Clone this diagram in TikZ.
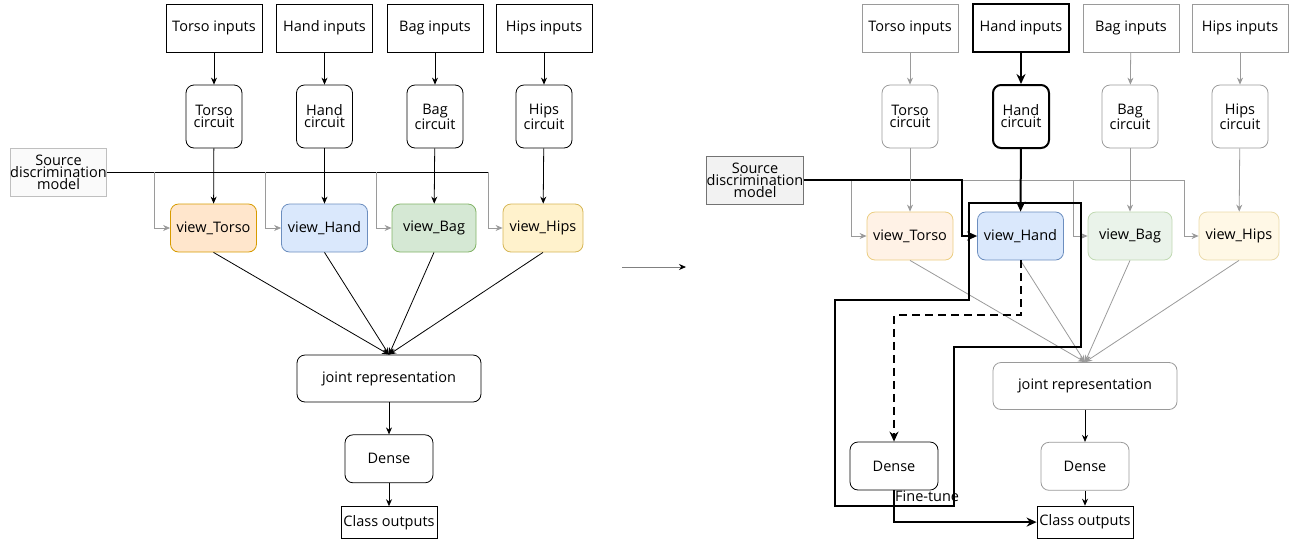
\documentclass[tikz,border=0pt]{standalone}
\usepackage{fontspec}
\setmainfont{Open Sans}
\usetikzlibrary{arrows.meta,positioning}

\definecolor{tfill}{HTML}{FFE6CC}\definecolor{tline}{HTML}{D79B00}
\definecolor{hfill}{HTML}{DAE8FC}\definecolor{hline}{HTML}{6C8EBF}
\definecolor{bfill}{HTML}{D5E8D4}\definecolor{bline}{HTML}{82B366}
\definecolor{pfill}{HTML}{FFF2CC}\definecolor{pline}{HTML}{D6B656}
\definecolor{faint}{HTML}{9A9A9A}

\tikzstyle{every node}=[font=\fontsize{14.5}{16}\selectfont,inner sep=0pt]
\tikzstyle{inbox}=[draw=black,line width=0.8pt,minimum width=96pt,minimum height=48pt]
\tikzstyle{circ}=[draw=black,line width=0.8pt,rounded corners=8pt,minimum width=56pt,minimum height=63pt,align=center,font=\fontsize{14.5}{12}\selectfont]
\tikzstyle{srcbox}=[draw=black!25,fill=black!2,line width=0.8pt,minimum width=95pt,minimum height=48pt,align=center,font=\fontsize{14.5}{11}\selectfont]
\tikzstyle{view}=[line width=0.8pt,rounded corners=8pt,minimum width=86pt,minimum height=48pt]
\tikzstyle{joint}=[draw=black,line width=0.8pt,rounded corners=8pt,minimum width=184pt,minimum height=47pt]
\tikzstyle{dense}=[draw=black,line width=0.8pt,rounded corners=8pt,minimum width=88pt,minimum height=48pt]
\tikzstyle{outbox}=[draw=black,line width=0.8pt,minimum width=96pt,minimum height=32pt]
\tikzstyle{arr}=[line width=0.8pt,-{Stealth[length=7pt,width=6pt]}]
\tikzstyle{garr}=[arr,draw=faint]
\tikzstyle{thk}=[line width=2pt,-{Stealth[length=10pt,width=9pt]}]

\begin{document}
\begin{tikzpicture}[x=1pt,y=-1pt]
\useasboundingbox (0,0) rectangle (1291,542);

% ---- before
\node[inbox] (ti) at (214,28) {Torso inputs};
\node[inbox] (hi) at (324.5,28) {Hand inputs};
\node[inbox] (bi) at (435,28) {Bag inputs};
\node[inbox] (pi) at (544,28) {Hips inputs};
\node[circ] (tc) at (214,116.5) {Torso\\circuit};
\node[circ] (hc) at (324.5,116.5) {Hand\\circuit};
\node[circ] (bc) at (435,116.5) {Bag\\circuit};
\node[circ] (pc) at (544,116.5) {Hips\\circuit};
\node[srcbox] (src) at (58.5,172) {Source\\discrimination\\model};
\node[view,draw=tline,fill=tfill] (tv) at (213.5,228) {view\_Torso};
\node[view,draw=hline,fill=hfill] (hv) at (324.5,228) {view\_Hand};
\node[view,draw=bline,fill=bfill,minimum width=84pt] (bv) at (434,228) {view\_Bag};
\node[view,draw=pline,fill=pfill,minimum width=80pt] (pv) at (543,228) {view\_Hips};
\node[joint] (jr) at (389,378.5) {joint representation};
\node[dense,below=32pt of jr] (dn) {Dense};
\node[outbox,below=23pt of dn] (co) {Class outputs};

\coordinate (bT) at (154,172);
\coordinate (bH) at (265,172);
\coordinate (bB) at (376,172);
\coordinate (bP) at (488,172);

\draw[arr] (ti) -- (tc);
\draw[arr] (hi) -- (hc);
\draw[arr] (bi) -- (bc);
\draw[arr] (pi) -- (pc);
\draw[line width=0.8pt] (src.east) -- (bP);
\draw[garr] (bT) |- (tv.west);
\draw[garr] (bH) |- (hv.west);
\draw[garr] (bB) |- (bv.west);
\draw[garr] (bP) |- (pv.west);
\draw[arr] (tc) -- (tv);
\draw[arr] (hc) -- (hv);
\draw[arr] (bc) -- (bv);
\draw[arr] (pc) -- (pv);
\draw[arr] (tv.south) -- (jr.north);
\draw[arr] (hv.south) -- (jr.north);
\draw[arr] (bv.south) -- (jr.north);
\draw[arr] (pv.south) -- (jr.north);
\draw[arr] (jr) -- (dn);
\draw[arr] (dn) -- (co);

\coordinate (ma) at (622,267);
\coordinate (mb) at (686,267);
\draw[line width=0.8pt,draw=gray,-{Stealth[length=7pt,width=6pt,black]}] (ma) -- (mb);

% ---- after
\node[inbox,draw=faint] (tir) at (910,28) {Torso inputs};
\node[inbox,line width=2pt] (hir) at (1021,28) {Hand inputs};
\node[inbox,draw=faint] (bir) at (1131,28) {Bag inputs};
\node[inbox,draw=faint] (pir) at (1240,28) {Hips inputs};
\node[circ,draw=faint] (tcr) at (910,116.5) {Torso\\circuit};
\node[circ,line width=2pt] (hcr) at (1021,116.5) {Hand\\circuit};
\node[circ,draw=faint] (bcr) at (1130,116.5) {Bag\\circuit};
\node[circ,draw=faint] (pcr) at (1240,116.5) {Hips\\circuit};
\node[srcbox,draw=black!55,fill=black!5] (srcr) at (755,180) {Source\\discrimination\\model};
\node[view,draw=tline!50,fill=tfill!50] (tvr) at (910,236) {view\_Torso};
\node[view,draw=hline,fill=hfill] (hvr) at (1020.5,236) {view\_Hand};
\node[view,draw=bline!50,fill=bfill!50,minimum width=84pt] (bvr) at (1130,236) {view\_Bag};
\node[view,draw=pline!50,fill=pfill!50,minimum width=80pt] (pvr) at (1239,236) {view\_Hips};
\node[joint,draw=faint] (jrr) at (1085,386) {joint representation};
\node[dense,draw=faint,below=32pt of jrr] (dnr) {Dense};
\node[outbox,below=15pt of dnr] (cor) {Class outputs};
\node[dense] (dft) at (894,466) {Dense};
\node[anchor=west] (ft) at ([xshift=1pt,yshift=-6pt]dft.south) {Fine-tune};

\coordinate (rT) at (851,180);
\coordinate (rH) at (962,180);
\coordinate (rB) at (1073,180);
\coordinate (rP) at (1184,180);

\draw[garr] (tir) -- (tcr);
\draw[thk] (hir) -- (hcr);
\draw[garr] (bir) -- (bcr);
\draw[garr] (pir) -- (pcr);
\draw[line width=0.8pt,draw=faint] (rH) -- (rP);
\draw[garr] (rT) |- (tvr.west);
\draw[garr] (rB) |- (bvr.west);
\draw[garr] (rP) |- (pvr.west);
\draw[thk] (srcr.east) -| (rH) |- (hvr.west);
\draw[garr] (tcr) -- (tvr);
\draw[thk] (hcr) -- (hvr);
\draw[garr] (bcr) -- (bvr);
\draw[garr] (pcr) -- (pvr);
\draw[garr] (tvr.south) -- (jrr.north);
\draw[garr] (hvr.south) -- (jrr.north);
\draw[garr] (bvr.south) -- (jrr.north);
\draw[garr] (pvr.south) -- (jrr.north);
\draw[arr] (jrr) -- (dnr);
\draw[arr] (dnr) -- (cor);

% fine-tune region
\draw[line width=2pt] (969,203) -- (1081,203) -- (1081,347) -- (954,347)
  -- (954,506) -- (835,506) -- (835,300) -- (969,300) -- cycle;
\draw[thk,dash pattern=on 8pt off 5pt] (hvr.south) -- ++(0,55) -| (dft.north);
\draw[thk] (dft.south) |- (cor.west);
\end{tikzpicture}
\end{document}
